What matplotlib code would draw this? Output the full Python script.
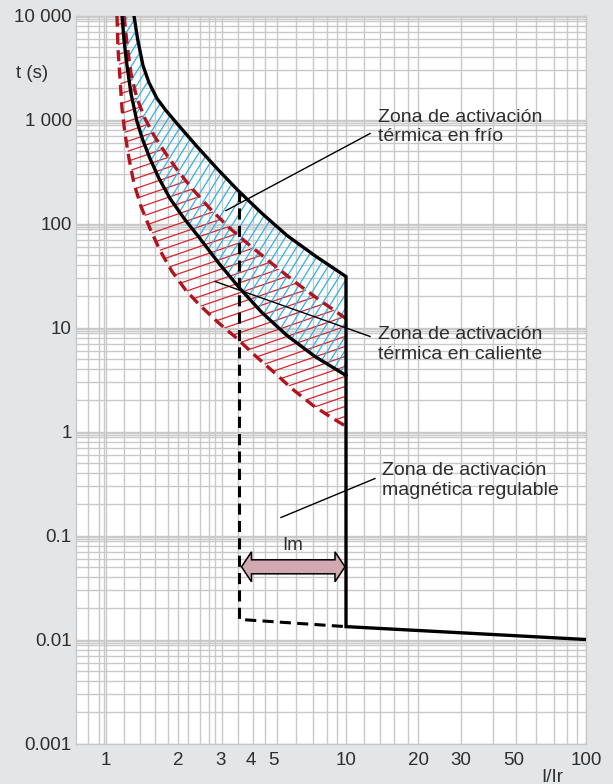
import numpy as np
import matplotlib
matplotlib.use("Agg")
import matplotlib.pyplot as plt
from matplotlib.collections import LineCollection
from matplotlib.patches import Polygon

plt.rcParams["font.family"] = ["Liberation Sans", "DejaVu Sans"]
plt.rcParams["lines.scale_dashes"] = False

# ---- curves (x = I/Ir, t in seconds) ----
cold_upper_x = [1.308, 1.353, 1.426, 1.510, 1.631, 1.778, 1.976, 2.394, 2.900,
                3.548, 4.467, 5.678, 7.499, 10.0]
cold_upper_t = [10000, 6009, 3305, 2269, 1592, 1220, 915, 550, 338,
                208, 125, 76.7, 48.2, 30.9]
cold_lower_x = [1.166, 1.189, 1.223, 1.271, 1.346, 1.426, 1.525, 1.663, 1.848,
                2.114, 2.464, 2.957, 3.617, 4.467, 5.678, 7.427, 10.0]
cold_lower_t = [10000, 5750, 3305, 1778, 957, 628, 422, 271, 174,
                112, 71.7, 41.3, 23.7, 13.9, 8.38, 5.26, 3.46]
hot_upper_x = [1.189, 1.223, 1.271, 1.346, 1.453, 1.585, 1.762, 1.976, 2.282,
               2.713, 3.255, 3.981, 4.965, 6.250, 7.794, 10.0]
hot_upper_t = [10000, 5381, 2769, 1592, 1022, 702, 482, 330, 217,
               139, 91.5, 61.4, 40.4, 26.5, 18.2, 12.2]
hot_lower_x = [1.111, 1.122, 1.144, 1.166, 1.200, 1.247, 1.308, 1.399, 1.525,
               1.679, 1.884, 2.154, 2.464, 2.929, 3.516, 4.177, 4.965, 6.015,
               7.286, 8.577, 10.0]
hot_lower_t = [10000, 4816, 2479, 1276, 733, 422, 242, 146, 89.5,
               55.0, 34.6, 22.7, 16.3, 11.2, 7.84, 5.38, 3.78, 2.53,
               1.78, 1.39, 1.12]

# magnetic trip
im_low, im_high = 3.6, 10.0
im_low_top_t = 205
mag_x = [im_low, im_high, 100]
mag_t = [0.0156, 0.0133, 0.0100]
arrow_t = 0.05
im_label_t = 0.08

# axes
x_ticks = [1, 2, 3, 4, 5, 10, 20, 30, 50, 100]
x_ticklabels = ["1", "2", "3", "4", "5", "10", "20", "30", "50", "100"]
y_ticks = [0.001, 0.01, 0.1, 1, 10, 100, 1000, 10000]
y_ticklabels = ["0.001", "0.01", "0.1", "1", "10", "100", "1 000", "10 000"]
x_grid = [0.84, 0.935, 0.98, 1.0, 1.19, 1.39, 1.6, 1.81, 2.0, 2.2, 2.46, 2.69,
          2.85, 3.03, 3.54, 4.1, 4.58, 5.14, 6.2, 7.3, 8.3, 9.2, 10, 11.9,
          13.9, 15.8, 18.1, 20, 30, 41, 51, 61.7, 73.5, 83, 91.7, 100]
y_grid_mant = [1, 2, 3, 4, 5, 6, 7, 8, 8.8, 9.3, 9.7]

# annotations: label, text anchor, leader start, leader end
labels = ["Zona de activación\ntérmica en frío",
          "Zona de activación\ntérmica en caliente",
          "Zona de activación\nmagnética regulable"]
label_x = [13.6, 13.6, 14.1]
label_t = [850, 6.9, 0.34]
leader_from = [(3.16, 133), (2.85, 27.7), (5.36, 0.149)]
leader_to = [(12.6, 733), (12.6, 8.2), (13.2, 0.353)]

BG = "#e4e5e7"
GRID = "#c9c9c9"
TXT = "#2e2e2e"
BLUE = "#2fb2ea"
RED = "#d8252f"
DRED = "#b0141e"

fig = plt.figure(figsize=(6.13, 7.84), dpi=100, facecolor=BG)
ax = fig.add_axes([76 / 613, 40.5 / 784, 510 / 613, 728 / 784])
ax.set_xscale("log")
ax.set_yscale("log")
ax.set_xlim(0.75, 100)
ax.set_ylim(0.001, 10000)
ax.set_facecolor("white")

for xv in x_grid:
    ax.axvline(xv, color=GRID, lw=1.0, zorder=0)
for dec in range(-3, 4):
    for m in y_grid_mant:
        ax.axhline(m * 10.0 ** dec, color=GRID, lw=1.0, zorder=0)
for s in ax.spines.values():
    s.set_color(GRID)
    s.set_linewidth(1.0)

ax.set_xticks(x_ticks)
ax.set_xticklabels(x_ticklabels)
ax.set_yticks(y_ticks)
ax.set_yticklabels(y_ticklabels)
ax.xaxis.set_minor_locator(matplotlib.ticker.NullLocator())
ax.yaxis.set_minor_locator(matplotlib.ticker.NullLocator())
ax.tick_params(length=0, labelsize=13.5, labelcolor=TXT)
ax.tick_params(axis="y", pad=3)
ax.tick_params(axis="x", pad=6)

# ---- hatched zones --------------------------------------------------
pos = ax.get_position()
W = pos.width * fig.get_figwidth() * fig.dpi
H = pos.height * fig.get_figheight() * fig.dpi


def hatch_zone(xs_top, ts_top, xs_bot, ts_bot, angle, step, color):
    verts = list(zip(xs_top, ts_top)) + list(zip(xs_bot, ts_bot))[::-1]
    poly = Polygon(verts, closed=True, facecolor="none", edgecolor="none",
                   transform=ax.transData)
    ax.add_patch(poly)
    tan = np.tan(np.radians(angle))
    segs = []
    if angle > 45:
        run = H / tan
        for x0 in np.arange(-run, W, step):
            segs.append([(x0 / W, 0), ((x0 + run) / W, 1)])
    else:
        rise = W * tan
        for y0 in np.arange(-rise, H, step):
            segs.append([(0, y0 / H), (1, (y0 + rise) / H)])
    lc = LineCollection(segs, colors=color, linewidths=0.9,
                        transform=ax.transAxes, zorder=1)
    ax.add_collection(lc)
    lc.set_clip_path(poly)


hatch_zone(hot_upper_x, hot_upper_t, hot_lower_x, hot_lower_t, 19, 10.0, RED)
hatch_zone(cold_upper_x, cold_upper_t, cold_lower_x, cold_lower_t, 58, 8.7, BLUE)

# ---- curves -----------------------------------------------------------
dash = (0, (8, 4.5))
ax.plot(hot_upper_x, hot_upper_t, color=DRED, lw=2.4, ls=dash, zorder=3)
ax.plot(hot_lower_x, hot_lower_t, color=DRED, lw=2.4, ls=dash, zorder=3)
ax.plot(cold_lower_x, cold_lower_t, color="black", lw=2.4, zorder=4)
ax.plot(cold_upper_x + mag_x[1:], cold_upper_t + mag_t[1:],
        color="black", lw=2.4, zorder=4, solid_joinstyle="miter")
ax.plot([im_low, im_low] + mag_x[1:2], [im_low_top_t, mag_t[0], mag_t[1]],
        color="black", lw=2.2, ls=dash, zorder=4)

# ---- Im arrow (fat double-headed) ------------------------------------
pL = ax.transData.transform((im_low, arrow_t))
pR = ax.transData.transform((im_high, arrow_t))
xl, xr, yc = pL[0] + 2, pR[0] - 1, pL[1]
hl, hh, bh = 10, 15, 7
disp = [(xl, yc), (xl + hl, yc + hh), (xl + hl, yc + bh), (xr - hl, yc + bh),
        (xr - hl, yc + hh), (xr, yc), (xr - hl, yc - hh), (xr - hl, yc - bh),
        (xl + hl, yc - bh), (xl + hl, yc - hh)]
arrow_verts = ax.transData.inverted().transform(disp)
ax.add_patch(Polygon(arrow_verts, closed=True, facecolor="#d3a9b1",
                     edgecolor="black", lw=1.1, zorder=5))
ax.text(np.sqrt(im_low * im_high), im_label_t, "Im", ha="center", va="center",
        fontsize=13.5, color=TXT, zorder=6)

# ---- annotations -------------------------------------------------------
for lab, lx, lt, p0, p1 in zip(labels, label_x, label_t, leader_from, leader_to):
    ax.plot([p0[0], p1[0]], [p0[1], p1[1]], color="black", lw=1.0, zorder=6)
    ax.text(lx, lt, lab, ha="left", va="center", fontsize=14,
            color=TXT, linespacing=1.2, zorder=6)

fig.text(32 / 613, 1 - 73 / 784, "t (s)", ha="center", va="center",
         fontsize=13.5, color=TXT)
fig.text(552 / 613, 1 - 769 / 784, "I/Ir", ha="center", va="top",
         fontsize=13.5, color=TXT)

fig.savefig("out.png", dpi=100, facecolor=BG)
